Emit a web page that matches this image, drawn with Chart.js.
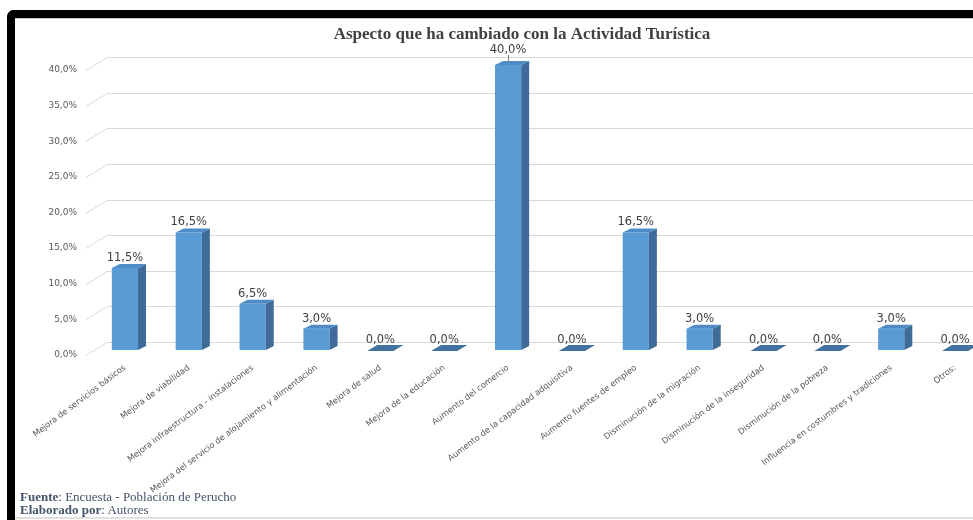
<!DOCTYPE html>
<html><head><meta charset="utf-8">
<script src="https://cdn.jsdelivr.net/npm/chart.js@4.4.1/dist/chart.umd.min.js"></script>
<style>
html,body{margin:0;padding:0;background:#fff;overflow:hidden;width:973px;height:520px;position:relative;}
#frame{position:absolute;left:7px;top:10px;width:1100px;height:520px;border-top:8px solid #000;border-left:8px solid #000;border-top-left-radius:7px;box-sizing:border-box;}
#inner{position:absolute;left:15px;top:18px;width:1100px;height:1px;background:#c8c8c8;}
#bottom{position:absolute;left:15px;top:517px;width:1100px;height:2px;background:#e0e0e0;}
#c{position:absolute;left:15px;top:0;}
#foot{position:absolute;left:20px;top:490px;font-family:"Liberation Serif",serif;font-size:13px;line-height:13px;color:#44546a;}
</style></head>
<body>
<div id="frame"></div><div id="inner"></div><div id="bottom"></div>
<canvas id="c" width="1014" height="520"></canvas>
<div id="foot"><b>Fuente</b>: Encuesta - Población de Perucho<br><b>Elaborado por</b>: Autores</div>
<script>
const categories = [
  'Mejora de servicios básicos',
  'Mejora de viabilidad',
  'Mejora infraestructura - instalaciones',
  'Mejora del servicio de alojamiento y alimentación',
  'Mejora de salud',
  'Mejora de la educación',
  'Aumento del comercio',
  'Aumento de la capacidad adquisitiva',
  'Aumento fuentes de empleo',
  'Disminución de la migración',
  'Disminución de la inseguridad',
  'Disminución de la pobreza',
  'Influencia en costumbres y tradiciones',
  'Otros:'
];
const values = [11.5, 16.5, 6.5, 3.0, 0, 0, 40.0, 0, 16.5, 3.0, 0, 0, 3.0, 0];
const yTicks = [0, 5, 10, 15, 20, 25, 30, 35, 40];
const chartTitle = 'Aspecto que ha cambiado con la Actividad Turística';

const fmt = v => Number(v).toFixed(1).replace('.', ',') + '%';

const DX = 8, DY = 4, FRONT_SHIFT = -5, WALL_SHIFT = -13;

const plugin3d = {
  id: 'bars3d',
  beforeDatasetsDraw(chart) {
    const { ctx, chartArea, scales: { y } } = chart;
    ctx.save();
    ctx.strokeStyle = '#d9d9d9';
    ctx.lineWidth = 1;
    y.ticks.forEach(t => {
      const py = Math.round(y.getPixelForValue(t.value)) + 0.5;
      const x0 = chartArea.left - 7;
      const x1 = chartArea.left + 14;
      ctx.beginPath();
      ctx.moveTo(x0, py);
      ctx.lineTo(x1, py + WALL_SHIFT);
      ctx.lineTo(chart.width, py + WALL_SHIFT);
      ctx.stroke();
    });
    ctx.restore();
    ctx.save();
    ctx.translate(0, FRONT_SHIFT);
  },
  afterDatasetsDraw(chart) {
    const ctx = chart.ctx;
    const meta = chart.getDatasetMeta(0);
    meta.data.forEach((bar, i) => {
      const { x, y, base, width } = bar.getProps(['x', 'y', 'base', 'width'], true);
      const l = x - width / 2, r = x + width / 2;
      if (values[i] > 0) {
        ctx.fillStyle = '#3e6b97';
        ctx.beginPath();
        ctx.moveTo(r, y); ctx.lineTo(r + DX, y - DY); ctx.lineTo(r + DX, base - DY); ctx.lineTo(r, base);
        ctx.closePath(); ctx.fill();
        ctx.fillStyle = '#4f8bc7';
        ctx.beginPath();
        ctx.moveTo(l, y); ctx.lineTo(l + DX, y - DY); ctx.lineTo(r + DX, y - DY); ctx.lineTo(r, y);
        ctx.closePath(); ctx.fill();
      } else {
        ctx.fillStyle = '#41719c';
        ctx.beginPath();
        ctx.moveTo(l, base + 1); ctx.lineTo(l + DX + 2, base - DY - 1); ctx.lineTo(r + DX + 2, base - DY - 1); ctx.lineTo(r, base + 1);
        ctx.closePath(); ctx.fill();
      }
      ctx.font = '11.5px "DejaVu Sans"';
      ctx.fillStyle = '#404040';
      ctx.textAlign = 'center';
      ctx.textBaseline = 'middle';
      if (y <= chart.chartArea.top + 1) {
        ctx.fillText(fmt(values[i]), x, y - 15);
        ctx.strokeStyle = '#7f7f7f';
        ctx.lineWidth = 1;
        ctx.beginPath();
        ctx.moveTo(Math.round(x) + 0.5, y - 10);
        ctx.lineTo(Math.round(x) + 0.5, y - 2);
        ctx.stroke();
      } else {
        ctx.fillText(fmt(values[i]), x, y - 10);
      }
    });
    ctx.restore();
  }
};

new Chart(document.getElementById('c'), {
  type: 'bar',
  data: {
    labels: categories,
    datasets: [{
      data: values,
      backgroundColor: '#5b9bd5',
      borderWidth: 0,
      barPercentage: 0.41,
      categoryPercentage: 1
    }]
  },
  options: {
    responsive: false,
    animation: false,
    devicePixelRatio: 1,
    layout: { padding: { left: 0, right: 0, top: 0, bottom: 0 } },
    plugins: {
      legend: { display: false },
      tooltip: { enabled: false },
      title: {
        display: true,
        text: chartTitle,
        color: '#404040',
        font: { family: 'Liberation Serif', size: 17, weight: 'bold', lineHeight: 1.2 },
        padding: { top: 24.8, bottom: 24.8 }
      }
    },
    scales: {
      x: {
        grid: { display: false, drawTicks: false },
        border: { display: false },
        ticks: {
          autoSkip: false, maxRotation: 37, minRotation: 37,
          color: '#595959', font: { family: 'DejaVu Sans', size: 8.3 }, padding: 8
        },
        afterFit(s) { s.height = 165; }
      },
      y: {
        min: 0, max: 40,
        grid: { display: false, drawTicks: false },
        border: { display: false },
        afterBuildTicks(s) { s.ticks = yTicks.map(v => ({ value: v })); },
        ticks: {
          color: '#595959', font: { family: 'DejaVu Sans', size: 9 }, padding: 16,
          callback: v => fmt(v)
        },
        afterFit(s) { s.width = 78; }
      },
      yRight: {
        position: 'right',
        display: true,
        grid: { display: false, drawTicks: false },
        border: { display: false },
        ticks: { display: false },
        afterFit(s) { s.width = 42; }
      }
    }
  },
  plugins: [plugin3d]
});
</script>
</body></html>
